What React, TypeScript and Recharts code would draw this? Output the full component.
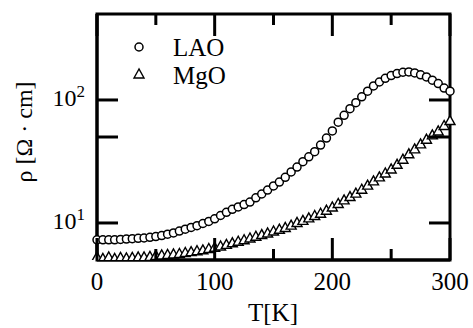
import React from 'react';
import { ScatterChart, Scatter, XAxis, YAxis, Legend, ReferenceArea } from 'recharts';

// temperature grid (K) shared by both films
const temps = [
  0, 5, 10, 15, 20, 25, 30, 35, 40, 45, 50, 55, 60, 65, 70, 75, 80, 85, 90, 95,
  100, 105, 110, 115, 120, 125, 130, 135, 140, 145, 150, 155, 160, 165, 170, 175, 180, 185, 190, 195,
  200, 205, 210, 215, 220, 225, 230, 235, 240, 245, 250, 255, 260, 265, 270, 275, 280, 285, 290, 295, 300,
];

// resistivity, Ohm cm
const lao = [
  7.3, 7.3, 7.3, 7.3, 7.35, 7.4, 7.45, 7.5, 7.55, 7.65, 7.75, 7.9, 8.1, 8.3, 8.6, 8.9, 9.2, 9.5, 9.9, 10.3,
  10.8, 11.5, 12.2, 12.9, 13.5, 14.1, 14.8, 16.0, 17.2, 18.5, 20.0, 21.5, 23.5, 26.0, 28.5, 31.5, 34.5, 38, 43, 49,
  56, 66, 75, 85, 95, 106, 118, 130, 140, 150, 158, 164, 168, 169, 166, 160, 154, 145, 136, 125, 118,
];
const mgo = [
  5.3, 5.15, 5.3, 5.15, 5.25, 5.2, 5.25, 5.3, 5.3, 5.35, 5.45, 5.5, 5.55, 5.6, 5.65, 5.75, 5.85, 5.95, 6.05, 6.2,
  6.35, 6.5, 6.7, 6.9, 7.1, 7.3, 7.55, 7.8, 8.05, 8.3, 8.6, 8.9, 9.2, 9.6, 10.1, 10.5, 11.0, 11.5, 12.0, 12.7,
  13.5, 14.4, 15.4, 16.4, 17.5, 18.8, 20.3, 22.0, 23.7, 25.5, 27.5, 30.0, 33.0, 36.5, 40.0, 44.0, 48.0, 52.0, 56.0, 62.0, 68.0,
];

const xTicks = [0, 50, 100, 150, 200, 250, 300];
const yTicks = [10, 50, 100];
const yLabels: Record<number, string> = { 10: '1', 100: '2' };
const Y_MIN = 5;
const Y_MAX = 500;

const laoData = temps.map((t, i) => ({ T: t, rho: lao[i] }));
const mgoData = temps.map((t, i) => ({ T: t, rho: mgo[i] }));

// no serif face is present in the sandbox, this falls back to the default sans
const FONT = '"Liberation Serif", serif';

const W = 473;
const H = 328;
const MARGIN = { top: 14, right: 22, bottom: 0, left: 0 };
const X_AXIS_H = 68;
const PLOT_H = H - MARGIN.top - MARGIN.bottom - X_AXIS_H;

const Circle = (p: any) => (
  <circle cx={p.cx} cy={p.cy} r={4} fill="#fff" stroke="#000" strokeWidth={1.5} />
);
const Tri = (p: any) => (
  <polygon
    points={`${p.cx},${p.cy - 5} ${p.cx - 5},${p.cy + 4} ${p.cx + 5},${p.cy + 4}`}
    fill="#fff"
    stroke="#000"
    strokeWidth={1.4}
  />
);

// inward tick on the bottom edge plus its twin on the top edge of the frame
const BottomTick = (p: any) => {
  const v = p.payload.value;
  const major = v % 100 === 0;
  const len = major ? 22 : 11;
  const top = p.y - PLOT_H;
  return (
    <g>
      <line x1={p.x} y1={p.y} x2={p.x} y2={p.y - len} stroke="#000" strokeWidth={3} />
      <line x1={p.x} y1={top} x2={p.x} y2={top + len} stroke="#000" strokeWidth={3} />
      {major && (
        <text x={p.x} y={p.y + 30} textAnchor="middle" fontSize={25} fontFamily={FONT} fill="#000">
          {v}
        </text>
      )}
    </g>
  );
};

const LeftTick = (p: any) => {
  const v = p.payload.value;
  return (
    <g>
      <line x1={p.x} y1={p.y} x2={p.x + 21} y2={p.y} stroke="#000" strokeWidth={3} />
      {yLabels[v] && (
        <text x={p.x - 12} y={p.y + 6} textAnchor="end" fontSize={24} fontFamily={FONT} fill="#000">
          10
          <tspan dy={-9} fontSize={17}>
            {yLabels[v]}
          </tspan>
        </text>
      )}
    </g>
  );
};

const RightTick = (p: any) => (
  <line x1={p.x} y1={p.y} x2={p.x - 21} y2={p.y} stroke="#000" strokeWidth={3} />
);

const renderLegend = () => (
  <svg width={150} height={75} style={{ display: 'block' }}>
    <circle cx={19} cy={27} r={4} fill="#fff" stroke="#000" strokeWidth={1.5} />
    <text x={53} y={36} fontSize={25} fontFamily={FONT} fill="#000">LAO</text>
    <polygon points="19,49 14,58 24,58" fill="#fff" stroke="#000" strokeWidth={1.4} />
    <text x={53} y={64} fontSize={25} fontFamily={FONT} fill="#000">MgO</text>
  </svg>
);

const renderXLabel = () => (
  <text x={273} y={321} textAnchor="middle" fontSize={25} fontFamily={FONT} fill="#000">
    T[K]
  </text>
);

const axisLine = { stroke: '#000', strokeWidth: 3 };

export default function App() {
  return (
    <div
      style={{
        position: 'absolute',
        left: 0,
        top: 0,
        width: W,
        height: H,
        background: '#fff',
        fontFamily: FONT,
        zIndex: 0,
      }}
    >
      <ScatterChart width={W} height={H} margin={MARGIN}>
        <XAxis
          xAxisId="b"
          dataKey="T"
          type="number"
          domain={[0, 300]}
          ticks={xTicks}
          interval={0}
          height={X_AXIS_H}
          tickSize={0}
          tickMargin={0}
          tickLine={false}
          axisLine={axisLine}
          tick={BottomTick}
          label={{ content: renderXLabel }}
        />
        <YAxis
          yAxisId="l"
          dataKey="rho"
          type="number"
          scale="log"
          domain={[Y_MIN, Y_MAX]}
          allowDataOverflow
          ticks={yTicks}
          interval={0}
          width={97}
          tickSize={0}
          tickMargin={0}
          tickLine={false}
          axisLine={axisLine}
          tick={LeftTick}
        />
        <YAxis
          yAxisId="r"
          orientation="right"
          dataKey="rho"
          type="number"
          scale="log"
          domain={[Y_MIN, Y_MAX]}
          allowDataOverflow
          ticks={yTicks}
          interval={0}
          width={1}
          tickSize={0}
          tickMargin={0}
          tickLine={false}
          axisLine={false}
          tick={RightTick}
        />
        <ReferenceArea
          xAxisId="b"
          yAxisId="l"
          x1={0}
          x2={300}
          y1={Y_MIN}
          y2={Y_MAX}
          ifOverflow="visible"
          fill="none"
          stroke="#000"
          strokeWidth={3}
          fillOpacity={0}
        />
        <Legend
          layout="vertical"
          align="center"
          verticalAlign="middle"
          content={renderLegend}
          wrapperStyle={{ left: 120, top: 20, width: 150, height: 75, zIndex: -1, background: 'transparent' }}
        />
        <Scatter name="LAO" data={laoData} xAxisId="b" yAxisId="l" shape={Circle} isAnimationActive={false} />
        <Scatter name="MgO" data={mgoData} xAxisId="b" yAxisId="l" shape={Tri} isAnimationActive={false} />
      </ScatterChart>
      <div
        style={{
          position: 'absolute',
          left: 24,
          top: 132,
          transform: 'translate(-50%, -50%) rotate(-90deg)',
          whiteSpace: 'nowrap',
          fontSize: 24,
          color: '#000',
        }}
      >
        ρ [Ω · cm]
      </div>
    </div>
  );
}
